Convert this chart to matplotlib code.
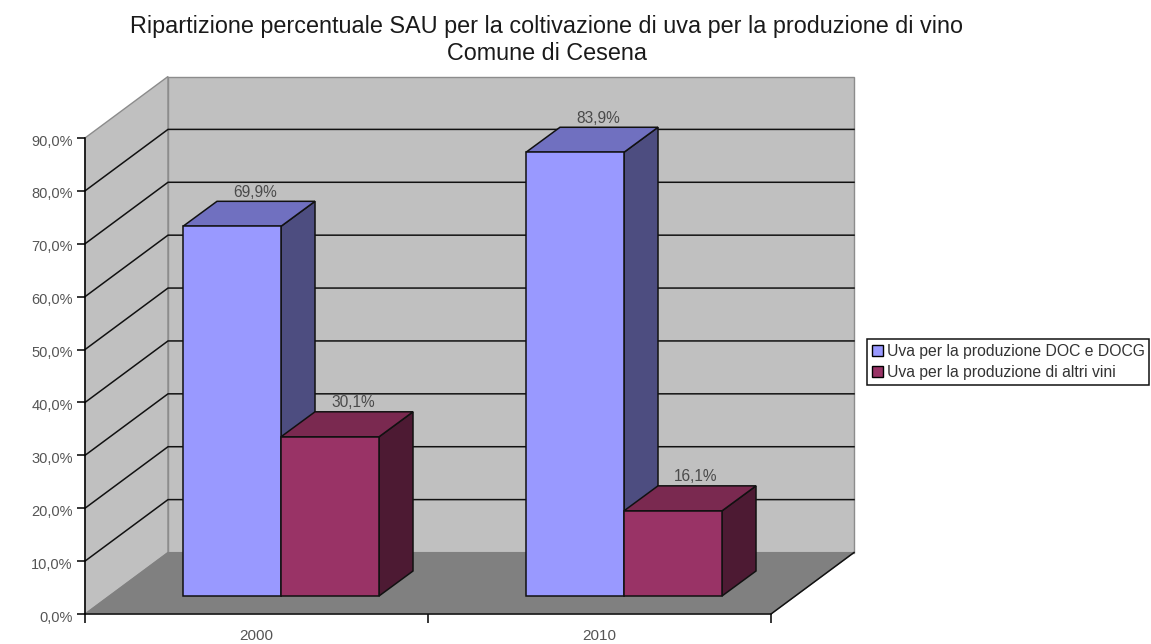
import matplotlib.pyplot as plt
from matplotlib.patches import Polygon, Rectangle
from matplotlib.transforms import ScaledTranslation

years = ['2000', '2010']
doc_docg = [69.9, 83.9]
altri_vini = [30.1, 16.1]
doc_labels = ['69,9%', '83,9%']
altri_labels = ['30,1%', '16,1%']
y_ticks = [0, 10, 20, 30, 40, 50, 60, 70, 80, 90]
y_tick_labels = ['0,0%', '10,0%', '20,0%', '30,0%', '40,0%', '50,0%', '60,0%', '70,0%', '80,0%', '90,0%']

plt.rcParams['font.family'] = 'Liberation Sans'

W, H = 1151, 644
fig = plt.figure(figsize=(W / 100, H / 100), dpi=100)

# axes box is the front plane of the 3d chart
left, right, bottom, top = 85, 771, 614, 138
ax = fig.add_axes([left / W, 1 - bottom / H, (right - left) / W, (bottom - top) / H])
ax.set_xlim(0, 2)
ax.set_ylim(0, 90)
ax.patch.set_visible(False)

# wall depth in data units
px_x = 2 / (right - left)
px_y = 90 / (bottom - top)
wall_dx = 83 * px_x
wall_dy = 61.5 * px_y

# side wall, back wall, floor
ax.add_patch(Polygon([(0, 0), (wall_dx, wall_dy), (wall_dx, 90 + wall_dy), (0, 90)],
                     fc='#c0c0c0', ec='#8c8c8c', lw=1, clip_on=False, zorder=1))
ax.add_patch(Rectangle((wall_dx, wall_dy), 2, 90, fc='#c0c0c0', ec='#8c8c8c', lw=1,
                       clip_on=False, zorder=1))
ax.add_patch(Polygon([(0, 0), (2, 0), (2 + wall_dx, wall_dy), (wall_dx, wall_dy)],
                     fc='#808080', ec='#808080', lw=0.8, clip_on=False, zorder=1))

for t in y_ticks[1:-1]:
    ax.plot([0, wall_dx, 2 + wall_dx], [t, t + wall_dy, t + wall_dy], color='#111111', lw=1.1,
            clip_on=False, zorder=2)
ax.plot([0, 2], [0, 0], color='#111111', lw=1.1, clip_on=False, zorder=2)
ax.plot([2, 2 + wall_dx], [0, wall_dy], color='#111111', lw=1.1, clip_on=False, zorder=2)


def bar3d(x0, value, front, top_c, side, label):
    w = 98 * px_x
    bx = x0
    by = 18 * px_y
    dx = 34 * px_x
    dy = 25 * px_y
    ax.add_patch(Polygon([(bx + w, by), (bx + w + dx, by + dy), (bx + w + dx, by + dy + value),
                          (bx + w, by + value)], fc=side, ec='#111111', lw=1.1, clip_on=False, zorder=3))
    ax.add_patch(Polygon([(bx, by + value), (bx + w, by + value), (bx + w + dx, by + dy + value),
                          (bx + dx, by + dy + value)], fc=top_c, ec='#111111', lw=1.1, clip_on=False, zorder=3))
    ax.add_patch(Rectangle((bx, by), w, value, fc=front, ec='#111111', lw=1.1, clip_on=False, zorder=3))
    ax.text(bx + w / 2 + dx / 2 + 6 * px_x, by + dy + value + 9 * px_y, label, ha='center', va='center',
            fontsize=11.2, color='#4a4a4a', clip_on=False, zorder=4)


# one 3d bar pair per category
for i in range(len(years)):
    start = i + (183 - left) * px_x
    bar3d(start, doc_docg[i], '#9999ff', '#7070c0', '#4d4d80', doc_labels[i])
    bar3d(start + 98 * px_x, altri_vini[i], '#993366', '#7a2950', '#4d1a33', altri_labels[i])

ax.set_yticks(y_ticks)
ax.set_yticklabels(y_tick_labels, fontsize=10.5, color='#555555')
ax.set_xticks([0, 1, 2])
ax.set_xticklabels([])
ax.set_xticks([0.5, 1.5], labels=years, minor=True, fontsize=11, color='#555555')
ax.tick_params(axis='x', which='minor', length=0, pad=11)
ax.tick_params(axis='x', which='major', length=6.5, width=1.1)
ax.tick_params(axis='y', length=5.8, width=1.1, pad=3)
for s in ['top', 'right', 'bottom']:
    ax.spines[s].set_visible(False)
ax.spines['left'].set_linewidth(1.1)
ax.spines['left'].set_zorder(2)

# labels sit slightly below their ticks in the original
for lab in ax.get_yticklabels():
    lab.set_transform(lab.get_transform() + ScaledTranslation(0, -2 / 100, fig.dpi_scale_trans))

fig.text(547 / W, 1 - 26 / H, 'Ripartizione percentuale SAU per la coltivazione di uva per la produzione di vino',
         ha='center', va='center', fontsize=16.8, color='#1a1a1a')
fig.text(547 / W, 1 - 53 / H, 'Comune di Cesena', ha='center', va='center', fontsize=16.8, color='#1a1a1a')

handles = [Rectangle((0, 0), 1, 1, fc='#9999ff', ec='black', lw=1),
           Rectangle((0, 0), 1, 1, fc='#993366', ec='black', lw=1)]
leg = fig.legend(handles, ['Uva per la produzione DOC e DOCG', 'Uva per la produzione di altri vini'],
                 loc='upper left', bbox_to_anchor=(867 / W, 1 - 339 / H), fontsize=11.3, frameon=True,
                 fancybox=False, edgecolor='#111111', framealpha=1, handlelength=0.7, handleheight=0.7,
                 handletextpad=0.25, labelspacing=0.42, borderpad=0.3, borderaxespad=0, labelcolor='#333333')
leg.get_frame().set_linewidth(1.1)

fig.savefig('out.png', dpi=100)
plt.close(fig)
